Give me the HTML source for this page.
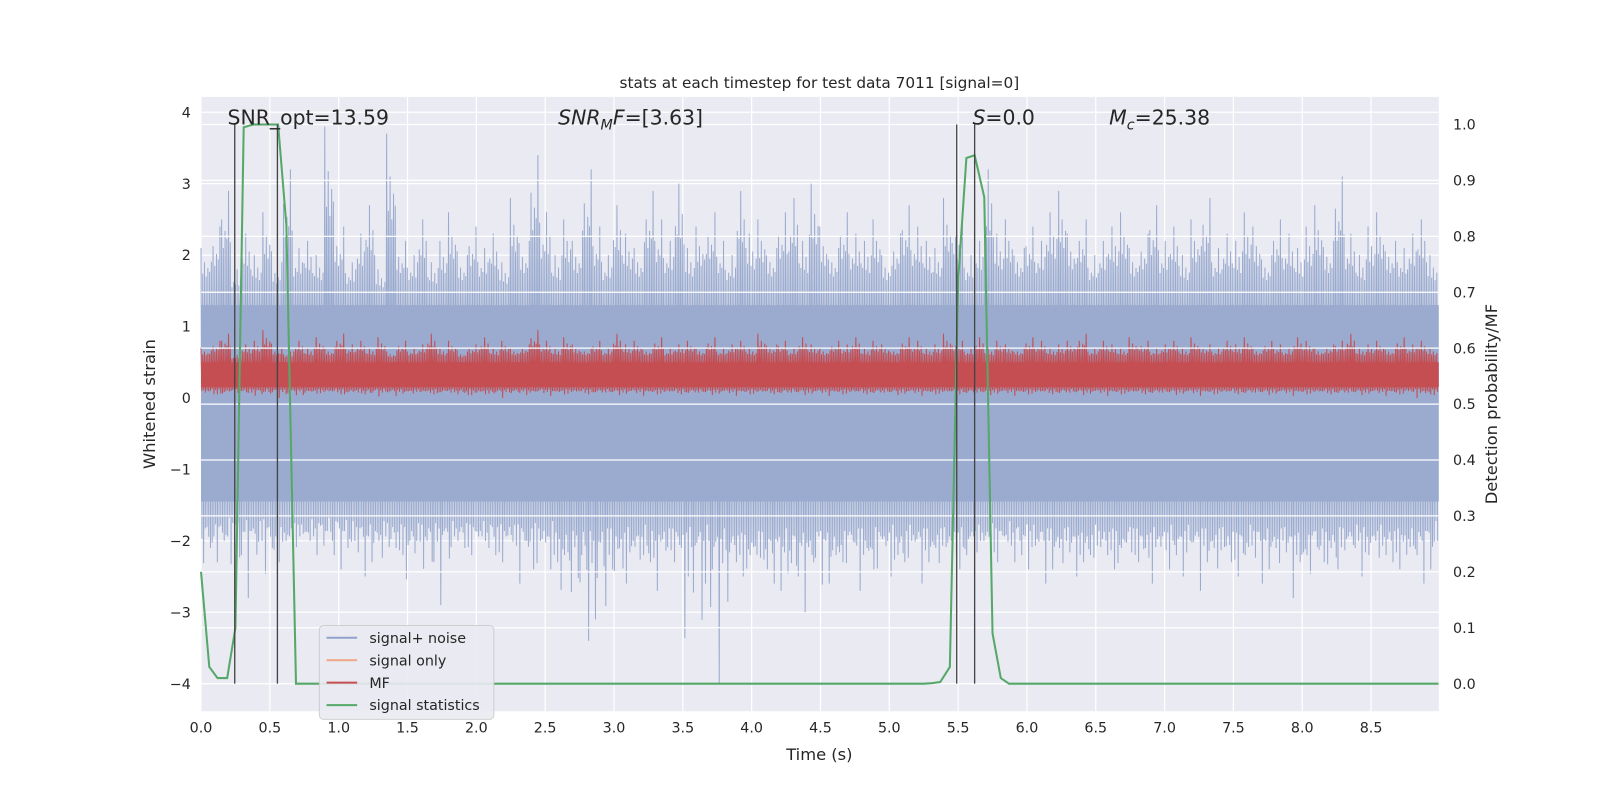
<!DOCTYPE html>
<html><head><meta charset="utf-8"><style>
html,body{margin:0;padding:0;background:#fff;overflow:hidden;}
svg{display:block;}
svg text{font-family:"DejaVu Sans","Liberation Sans",sans-serif;fill:#262626;}
</style></head><body>
<svg width="1600" height="800" viewBox="0 0 1568 784" xmlns="http://www.w3.org/2000/svg">
<rect x="197" y="95" width="1213" height="602" fill="#eaeaf2"/>
<g id="lgrid"></g>
<g id="noise"></g>
<g id="mf"></g>
<g id="rgrid"></g>
<g id="green"></g>
<g id="vlines"></g>
<g id="axes"></g>
<text x="803" y="86" text-anchor="middle" font-size="15">stats at each timestep for test data 7011 [signal=0]</text>
<text x="803" y="745" text-anchor="middle" font-size="16">Time (s)</text>
<text transform="translate(152,396) rotate(-90)" text-anchor="middle" font-size="16">Whitened strain</text>
<text transform="translate(1467,396) rotate(-90)" text-anchor="middle" font-size="16">Detection probability/MF</text>
<text x="223" y="122" font-size="20">SNR_opt=13.59</text>
<text x="547" y="122" font-size="20"><tspan font-style="italic">SNR</tspan><tspan font-style="italic" font-size="14" dy="5">M</tspan><tspan font-style="italic" dy="-5">F</tspan>=[3.63]</text>
<text x="953" y="122" font-size="20"><tspan font-style="italic">S</tspan>=0.0</text>
<text x="1087" y="122" font-size="20"><tspan font-style="italic">M</tspan><tspan font-style="italic" font-size="14" dy="5">c</tspan><tspan dy="-5">=25.38</tspan></text>
<g>
<rect x="313" y="613" width="171" height="92" rx="4" fill="#eaeaf2" stroke="#ccc" opacity="0.9"/>
<line x1="320" y1="625" x2="350" y2="625" stroke="#8fa3cc" stroke-width="2"/><text x="362" y="630" font-size="14">signal+ noise</text>
<line x1="320" y1="647" x2="350" y2="647" stroke="#eea98c" stroke-width="2"/><text x="362" y="652" font-size="14">signal only</text>
<line x1="320" y1="669" x2="350" y2="669" stroke="#c44e52" stroke-width="2"/><text x="362" y="674" font-size="14">MF</text>
<line x1="320" y1="691" x2="350" y2="691" stroke="#55a868" stroke-width="2"/><text x="362" y="696" font-size="14">signal statistics</text>
</g>
</svg>
<script>
const xTicks=[0,0.5,1,1.5,2,2.5,3,3.5,4,4.5,5,5.5,6,6.5,7,7.5,8,8.5];
const yTicks=[-4,-3,-2,-1,0,1,2,3,4];
const rTicks=[0,0.1,0.2,0.3,0.4,0.5,0.6,0.7,0.8,0.9,1.0];
const noiseUpper=[2.1,2.4,2.9,1.8,2.3,2.0,2.6,1.9,3.2,2.1,2.2,2.0,3.8,2.4,1.9,2.3,2.7,1.8,3.7,2.2,2.0,2.5,1.9,2.2,2.6,2.0,2.4,2.1,2.3,1.9,2.8,2.2,3.4,2.6,2.0,2.5,2.2,3.2,2.4,2.0,2.7,2.3,2.1,2.9,2.5,2.2,3.0,2.1,2.4,2.6,2.2,2.0,2.9,2.3,2.5,2.1,2.6,2.8,2.2,3.0,2.4,2.1,2.6,2.3,2.2,2.5,2.0,2.3,2.7,2.4,2.2,2.1,2.8,2.6,2.0,2.2,3.2,2.3,2.5,2.1,2.4,2.2,2.6,2.9,2.3,2.5,2.0,2.2,2.4,2.6,2.1,2.3,2.7,2.2,2.4,2.0,2.5,2.8,2.1,2.3,2.2,2.6,2.4,2.0,2.5,2.3,2.1,2.4,2.7,2.2,3.1,2.3,2.0,2.4,2.6,2.2,2.1,2.3,2.5,2.0];
const noiseLower=[-2.4,-2.6,-2.2,-2.0,-2.3,-2.1,-1.9,-2.8,-2.2,-2.0,-2.3,-2.1,-2.2,-2.0,-1.9,-2.1,-2.4,-2.2,-2.0,-2.3,-2.5,-2.0,-2.2,-2.1,-2.9,-2.3,-2.0,-2.2,-2.1,-2.0,-2.3,-2.2,-2.1,-2.4,-2.0,-2.6,-2.2,-2.3,-2.4,-3.1,-3.4,-2.2,-2.6,-2.1,-2.4,-2.7,-2.3,-2.2,-2.5,-2.1,-2.3,-4.0,-2.4,-2.6,-2.2,-2.5,-2.3,-2.7,-2.6,-2.4,-2.2,-3.0,-2.5,-2.3,-2.2,-2.6,-2.4,-2.1,-2.7,-2.3,-2.2,-2.5,-2.1,-2.3,-2.6,-2.2,-2.4,-2.1,-2.3,-2.2,-2.0,-2.4,-2.2,-2.3,-2.1,-2.4,-2.6,-2.2,-2.3,-2.5,-2.1,-2.4,-2.2,-2.6,-2.1,-2.3,-2.5,-2.2,-2.4,-2.1,-2.3,-2.7,-2.2,-2.5,-2.3,-2.1,-2.4,-2.6,-2.2,-2.3,-2.8,-2.4,-2.1,-2.3,-2.2,-2.5,-2.1,-2.4,-2.3,-2.2];
const mfUpper=[0.7,0.8,0.9,0.6,0.75,0.8,0.95,0.7,0.65,0.8,0.7,0.85,0.7,0.9,0.75,0.8,0.7,0.85,0.65,0.8,0.7,0.75,0.9,0.7,0.8,0.65,0.75,0.85,0.7,0.8,0.7,0.75,0.95,0.8,0.7,0.85,0.75,0.7,0.8,0.7,0.9,0.75,0.8,0.7,0.85,0.7,0.75,0.8,0.7,0.85,0.7,0.75,0.8,0.7,0.9,0.75,0.8,0.7,0.85,0.75,0.7,0.8,0.75,0.85,0.7,0.8,0.75,0.7,0.85,0.8,0.7,0.75,0.9,0.8,0.7,0.85,0.7,0.8,0.75,0.7,0.85,0.8,0.7,0.75,0.8,0.9,0.7,0.8,0.75,0.7,0.85,0.8,0.7,0.75,0.8,0.7,0.85,0.75,0.7,0.8,0.75,0.85,0.7,0.8,0.75,0.7,0.85,0.8,0.7,0.75,0.8,0.9,0.7,0.75,0.8,0.7,0.85,0.75,0.8,0.7];
const mfLower=[0.05,0.1,0.0,0.08,0.05,0.1,0.03,0.07,0.1,0.05,0.0,0.08,0.06,0.1,0.04,0.08,0.05,0.1,0.02,0.07,0.05,0.1,0.06,0.03,0.08,0.05,0.1,0.04,0.07,0.05,0.0,0.08,0.06,0.1,0.04,0.07,0.05,0.1,0.03,0.08,0.05,0.1,0.06,0.04,0.08,0.05,0.1,0.03,0.07,0.05,0.1,0.06,0.04,0.08,0.05,0.1,0.03,0.07,0.05,0.1,0.06,0.04,0.08,0.05,0.1,0.03,0.07,0.05,0.1,0.06,0.04,0.08,0.05,0.1,0.03,0.07,0.05,0.1,0.06,0.04,0.08,0.05,0.1,0.03,0.07,0.05,0.1,0.06,0.04,0.08,0.05,0.1,0.03,0.07,0.05,0.1,0.06,0.04,0.08,0.05,0.1,0.03,0.07,0.05,0.1,0.06,0.04,0.08,0.05,0.1,0.03,0.07,0.05,0.1,0.06,0.04,0.08,0.05,0.1,0.03];
const statT=[0,0.06,0.12,0.19,0.25,0.31,0.38,0.44,0.5,0.56,0.62,0.69,0.75,5.25,5.31,5.37,5.44,5.5,5.56,5.62,5.69,5.75,5.81,5.87,5.94,6.0,8.99];
const statP=[0.2,0.03,0.01,0.01,0.1,0.995,1.0,1.0,1.0,1.0,0.82,0.0,0.0,0.0,0.001,0.003,0.03,0.72,0.94,0.945,0.87,0.09,0.01,0.0,0.0,0.0,0.0];
const markT=[0.245,0.555,5.49,5.62];
const NS='http://www.w3.org/2000/svg';
const X=t=>197+t*134.9, Y=v=>390-v*70, R=p=>670-p*548;
function mk(tag,attrs,parent){const e=document.createElementNS(NS,tag);for(const k in attrs)e.setAttribute(k,attrs[k]);document.getElementById(parent).appendChild(e);return e;}
xTicks.forEach(t=>{const l=mk('line',{x1:X(t),x2:X(t),y1:95,y2:697,stroke:'#fff','stroke-width':1.2},'lgrid');


const tx=mk('text',{x:X(t),y:718,'text-anchor':'middle','font-size':14},'axes');tx.textContent=t.toFixed(1);

});
yTicks.forEach(v=>{const l=mk('line',{x1:197,x2:1410,y1:Y(v),y2:Y(v),stroke:'#fff','stroke-width':1.2},'lgrid');


const tx=mk('text',{x:187,y:Y(v)+5,'text-anchor':'end','font-size':14},'axes');tx.textContent=(v<0?'\u2212'+(-v):v);

});
rTicks.forEach(p=>{const l=mk('line',{x1:197,x2:1410,y1:R(p),y2:R(p),stroke:'#fff','stroke-width':1.2},'rgrid');


const tx=mk('text',{x:1424,y:R(p)+5,'font-size':14},'axes');tx.textContent=p.toFixed(1);

});
const fr=[1,0.55,0.75,0.5,0.65,0.58];
function band(up,lo,parent,color,coreHi,coreLo,name){
 const n=up.length, dt=8.99/n, m=fr.length;
 const core=mk('rect',{x:197,y:Y(coreHi),width:1213,height:Y(coreLo)-Y(coreHi),fill:color},parent);
 
 
 let pts=[];
 for(let i=0;i<n;i++){for(let k=0;k<m;k++){const f=fr[(k+i)%m];const t=(i+k/m)*dt;
  pts.push(X(t)+','+Y(coreHi+(up[i]-coreHi)*f));
  pts.push(X(t+dt/(2*m))+','+Y(coreLo+(lo[(i+k)%n]-coreLo)*fr[(k+2*i+1)%m]));}}
 const pl=mk('polyline',{points:pts.join(' '),fill:'none',stroke:color,'stroke-width':1},parent);
 
 
}
band(noiseUpper,noiseLower,'noise','#9aabcf',1.3,-1.45,'signal-noise');
band(mfUpper,mfLower,'mf','#c44e52',0.5,0.15,'mf');
const gp=statT.map((t,i)=>X(t)+','+R(statP[i])).join(' ');
const g=mk('polyline',{points:gp,fill:'none',stroke:'#55a868','stroke-width':2},'green');


markT.forEach(t=>{const l=mk('line',{x1:X(t),x2:X(t),y1:122,y2:670,stroke:'#444','stroke-width':1.3},'vlines');

});
</script>
</body></html>
